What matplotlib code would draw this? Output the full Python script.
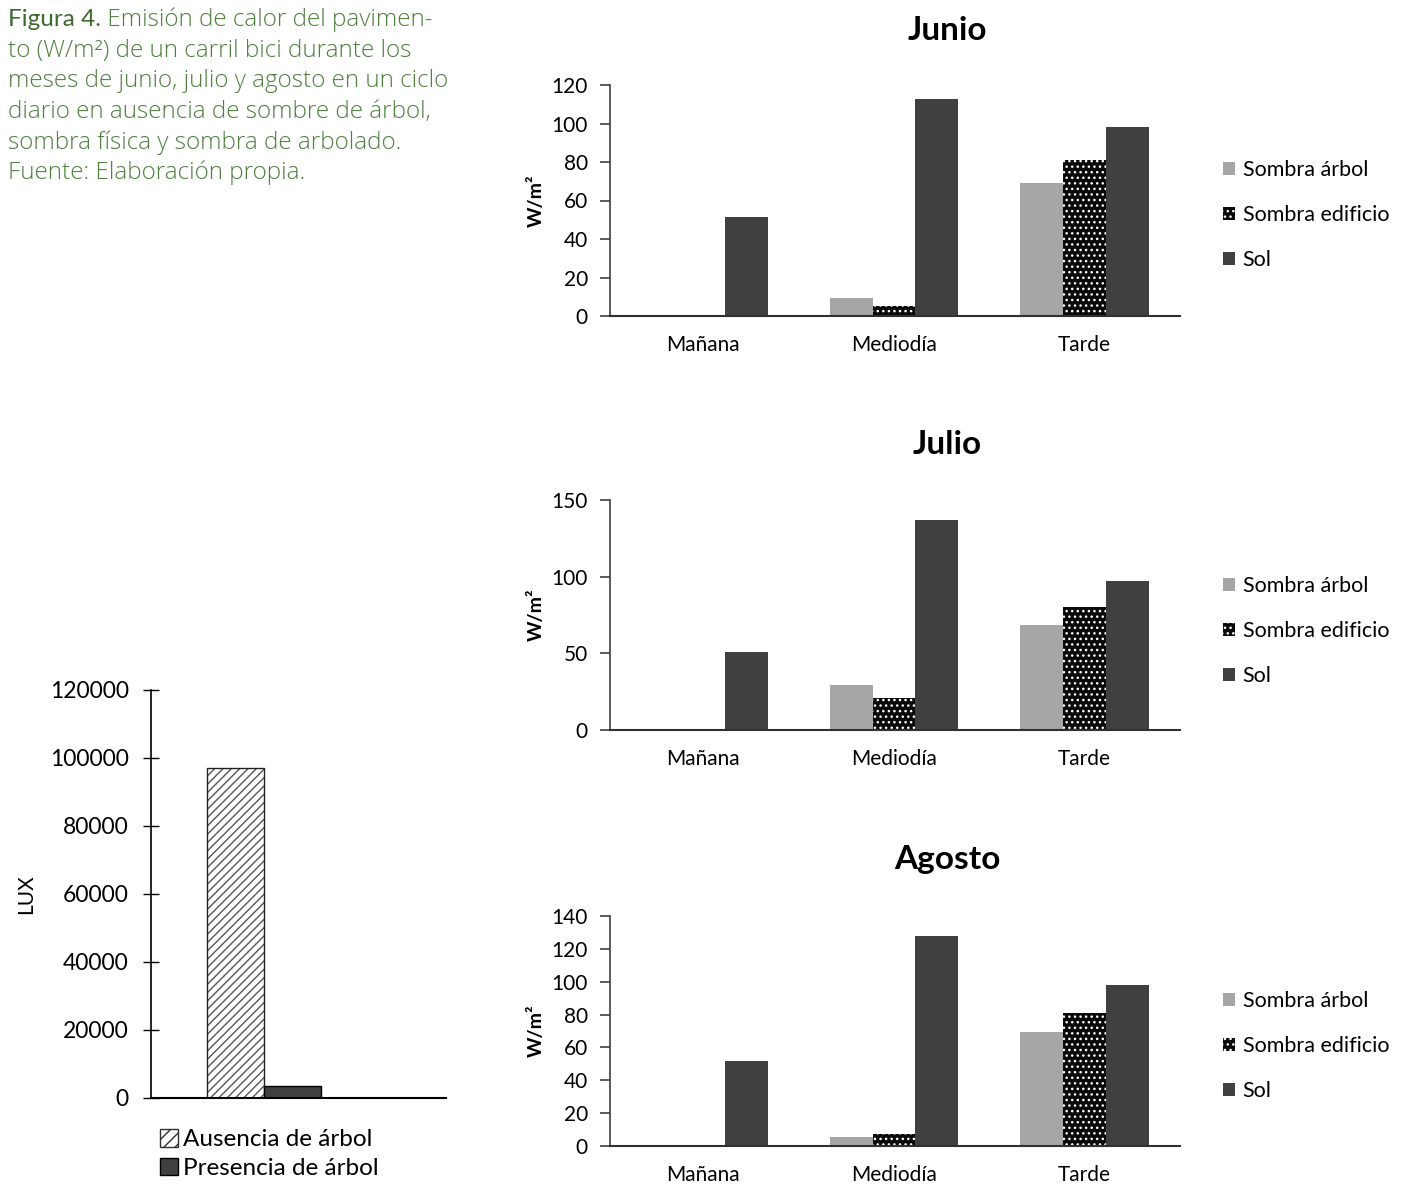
import numpy as np
import matplotlib.pyplot as plt
from matplotlib.patches import Patch

plt.rcParams['font.family'] = ['Lato', 'DejaVu Sans']

momentos = ['Mañana', 'Mediodía', 'Tarde']
series = ['Sombra árbol', 'Sombra edificio', 'Sol']

junio = {'Sombra árbol': [0, 9.5, 69],
         'Sombra edificio': [0, 5, 81],
         'Sol': [51.5, 112.5, 98]}
julio = {'Sombra árbol': [0, 29.5, 68.5],
         'Sombra edificio': [0, 21, 80],
         'Sol': [51, 137, 97]}
agosto = {'Sombra árbol': [0, 5.5, 69.5],
          'Sombra edificio': [0, 7.5, 81],
          'Sol': [52, 128, 98]}

lux_labels = ['Ausencia de árbol', 'Presencia de árbol']
lux_values = [97000, 3500]

caption_head = 'Figura 4.'
caption_lines = [
    ' Emisión de calor del pavimen-',
    'to (W/m²) de un carril bici durante los',
    'meses de junio, julio y agosto en un ciclo',
    'diario en ausencia de sombre de árbol,',
    'sombra física y sombra de arbolado.',
    'Fuente: Elaboración propia.',
]

W, H = 1403, 1184
fig = plt.figure(figsize=(W / 100, H / 100), dpi=100)


def box(left, top, right, bottom):
    return [left / W, 1 - bottom / H, (right - left) / W, (bottom - top) / H]


def month_chart(rect, title, data, ymax, step, title_y, legend_y):
    ax = fig.add_axes(rect)
    x = np.arange(len(momentos))
    bw = 0.225
    styles = {
        'Sombra árbol': dict(color='#a6a6a6', linewidth=0),
        'Sombra edificio': dict(facecolor='#0a0a0a', edgecolor='white',
                                hatch='...', linewidth=0),
        'Sol': dict(color='#404040', linewidth=0),
    }
    for i, s in enumerate(series):
        ax.bar(x + (i - 1) * bw, data[s], bw, label=s, **styles[s])
    ax.set_xlim(-0.49, 2.5)
    ax.set_ylim(0, ymax)
    ax.set_yticks(np.arange(0, ymax + 1, step))
    ax.set_xticks(x)
    ax.set_xticklabels(momentos, fontsize=15)
    ax.tick_params(axis='y', labelsize=15, length=7, width=1.2, pad=9,
                   color='#404040')
    ax.tick_params(axis='x', length=0, pad=14)
    for sp in ['top', 'right']:
        ax.spines[sp].set_visible(False)
    ax.spines['left'].set_linewidth(1.2)
    ax.spines['left'].set_color('#404040')
    ax.spines['bottom'].set_linewidth(1.5)
    ax.spines['bottom'].set_color('#303030')
    ax.set_ylabel('W/m²', fontsize=14, fontweight='bold', labelpad=5)
    fig.text(947 / W, 1 - title_y / H, title, fontsize=24, fontweight='bold',
             ha='center', va='center')
    ax.legend(loc='center left', bbox_to_anchor=(1204 / W, 1 - legend_y / H),
              bbox_transform=fig.transFigure, frameon=False, fontsize=15.5,
              handlelength=0.55, handleheight=0.55, handletextpad=0.35,
              labelspacing=1.15)
    return ax


month_chart(box(610, 85, 1180, 316), 'Junio', junio, 120, 20, 30, 215)
month_chart(box(610, 500, 1180, 730), 'Julio', julio, 150, 50, 445, 631)
month_chart(box(610, 916, 1180, 1146), 'Agosto', agosto, 140, 20, 860, 1046)

# illuminance chart
ax = fig.add_axes(box(151, 690, 446, 1098))
hatch_style = dict(facecolor='white', edgecolor='#555555', hatch='////',
                   linewidth=0)
ax.bar(-0.5, lux_values[0], 1, **hatch_style)
ax.bar(-0.5, lux_values[0], 1, fill=False, edgecolor='#202020', linewidth=1)
ax.bar(0.5, lux_values[1], 1, facecolor='#404040', edgecolor='black',
       linewidth=1)
ax.set_xlim(-1.98, 3.19)
ax.set_ylim(0, 120000)
ax.set_yticks(np.arange(0, 120001, 20000))
ax.set_xticks([])
ax.tick_params(axis='y', labelsize=16.5, direction='inout', length=12,
               width=1, pad=10)
for sp in ['top', 'right']:
    ax.spines[sp].set_visible(False)
ax.spines['left'].set_linewidth(1.2)
ax.spines['bottom'].set_linewidth(1.5)
ax.set_ylabel('LUX', fontsize=15, labelpad=10)
handles = [Patch(edgecolor='#303030', facecolor='white', hatch='///',
                 linewidth=1),
           Patch(facecolor='#404040', edgecolor='black', linewidth=1)]
ax.legend(handles, lux_labels, loc='center left',
          bbox_to_anchor=(138 / W, 1 - 1154 / H),
          bbox_transform=fig.transFigure, frameon=False, fontsize=17.5,
          handlelength=0.75, handleheight=0.75, handletextpad=0.2,
          labelspacing=0.3)

# caption
green = '#4f8040'
fs = 17.5
t = fig.text(8 / W, 1 - 20 / H, caption_head, fontsize=fs, color='#3b6a2c',
             va='center', ha='left')
fig.canvas.draw()
bb = t.get_window_extent()
fig.text(bb.x1 / W, 1 - 20 / H, caption_lines[0], fontsize=fs, color=green,
         va='center', ha='left', family='Open Sans', fontweight='light')
for i, line in enumerate(caption_lines[1:], start=1):
    fig.text(8 / W, 1 - (20 + 30.6 * i) / H, line, fontsize=fs, color=green,
             va='center', ha='left', family='Open Sans', fontweight='light')

fig.savefig('out.png', dpi=100)
